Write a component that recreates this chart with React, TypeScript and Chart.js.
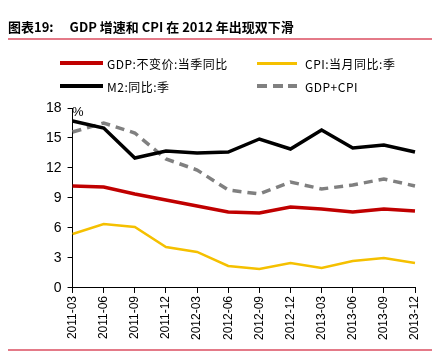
import React, { useEffect, useRef } from "react";
import { Chart, registerables } from "chart.js";

Chart.register(...registerables);

const categories = [
  "2011-03", "2011-06", "2011-09", "2011-12",
  "2012-03", "2012-06", "2012-09", "2012-12",
  "2013-03", "2013-06", "2013-09", "2013-12",
];
const gdpValues = [10.2, 10.1, 9.4, 8.8, 8.2, 7.6, 7.5, 8.1, 7.9, 7.6, 7.9, 7.7];
const cpiValues = [5.4, 6.4, 6.1, 4.1, 3.6, 2.2, 1.9, 2.5, 2.0, 2.7, 3.0, 2.5];
const m2Values = [16.7, 16.0, 13.0, 13.7, 13.5, 13.6, 14.9, 13.9, 15.8, 14.0, 14.3, 13.6];
const gdpCpiValues = [15.6, 16.5, 15.5, 12.9, 11.8, 9.8, 9.4, 10.6, 9.9, 10.3, 10.9, 10.2];
const yTicks = [0, 3, 6, 9, 12, 15, 18];

const RED = "#C00000";
const YELLOW = "#F5C000";
const BLACK = "#000000";
const GRAY = "#808080";
const PINK = "#E47A88";

export default function App() {
  const ref = useRef<HTMLCanvasElement | null>(null);

  useEffect(() => {
    document.body.style.margin = "0";
    if (!ref.current) return;
    const chart = new Chart(ref.current, {
      type: "line",
      data: {
        labels: categories,
        datasets: [
          { label: "M2:同比:季", data: m2Values, borderColor: BLACK, borderWidth: 3.5, pointRadius: 0, tension: 0 },
          { label: "GDP+CPI", data: gdpCpiValues, borderColor: GRAY, borderWidth: 3.5, borderDash: [9, 6], pointRadius: 0, tension: 0 },
          { label: "GDP:不变价:当季同比", data: gdpValues, borderColor: RED, borderWidth: 3.5, pointRadius: 0, tension: 0 },
          { label: "CPI:当月同比:季", data: cpiValues, borderColor: YELLOW, borderWidth: 2.5, pointRadius: 0, tension: 0 },
        ],
      },
      options: {
        animation: false,
        responsive: false,
        maintainAspectRatio: false,
        layout: { padding: { top: 108, left: 40, right: 31, bottom: 11 } },
        plugins: { legend: { display: false }, tooltip: { enabled: false } },
        scales: {
          x: {
            offset: false,
            grid: { display: true, drawOnChartArea: false, drawTicks: true, tickLength: 5, color: BLACK },
            border: { display: true, color: BLACK, width: 1 },
            ticks: {
              minRotation: 90,
              maxRotation: 90,
              autoSkip: false,
              color: "#000",
              font: { family: "Liberation Sans, Arial", size: 12 },
              padding: 3,
            },
          },
          y: {
            min: 0,
            max: 18,
            afterBuildTicks: (axis: any) => {
              axis.ticks = yTicks.map((v) => ({ value: v }));
            },
            grid: { display: true, drawOnChartArea: false, drawTicks: true, tickLength: 5, color: BLACK },
            border: { display: true, color: BLACK, width: 1 },
            ticks: {
              color: "#000",
              font: { family: "Liberation Sans, Arial", size: 14 },
              padding: 6,
            },
          },
        },
      },
    });
    return () => chart.destroy();
  }, []);

  const legendText: React.CSSProperties = {
    position: "absolute",
    fontFamily: "'Noto Sans CJK SC', sans-serif",
    fontSize: 12,
    lineHeight: "14px",
    color: "#000",
    whiteSpace: "nowrap",
    letterSpacing: 0.5,
  };
  const lineStyle = (x: number, y: number, w: number, color: string, h: number): React.CSSProperties => ({
    position: "absolute",
    left: x,
    top: y - h / 2,
    width: w,
    height: h,
    background: color,
  });

  return (
    <div style={{ position: "absolute", left: 0, top: 0, width: 446, height: 354, background: "#fff", overflow: "hidden" }}>
      <canvas ref={ref} width={446} height={354} style={{ position: "absolute", left: 0, top: 0 }} />
      <div
        style={{
          position: "absolute",
          left: 8,
          top: 19,
          fontFamily: "'Noto Sans CJK SC', 'Liberation Sans', sans-serif",
          fontWeight: "bold",
          fontSize: 13,
          lineHeight: "16px",
          whiteSpace: "nowrap",
          color: "#000",
        }}
      >
        <span>图表19:</span>
        <span style={{ marginLeft: 16 }}>GDP 增速和 CPI 在 2012 年出现双下滑</span>
      </div>
      <div style={lineStyle(8, 39, 424, PINK, 2)} />
      <div style={lineStyle(8, 350, 424, PINK, 1.5)} />

      <div style={lineStyle(60, 63, 43, RED, 4)} />
      <div style={{ ...legendText, left: 107, top: 57 }}>GDP:不变价:当季同比</div>
      <div style={lineStyle(257, 63, 40, YELLOW, 3)} />
      <div style={{ ...legendText, left: 305, top: 57 }}>CPI:当月同比:季</div>
      <div style={lineStyle(60, 86, 43, BLACK, 4)} />
      <div style={{ ...legendText, left: 107, top: 80 }}>M2:同比:季</div>
      <div style={lineStyle(257, 86, 10, GRAY, 4)} />
      <div style={lineStyle(273, 86, 10, GRAY, 4)} />
      <div style={lineStyle(288, 86, 9, GRAY, 4)} />
      <div style={{ ...legendText, left: 305, top: 80 }}>GDP+CPI</div>

      <div
        style={{
          position: "absolute",
          left: 72,
          top: 104,
          fontFamily: "'Liberation Sans', Arial, sans-serif",
          fontSize: 13,
          color: "#000",
        }}
      >
        %
      </div>
    </div>
  );
}
